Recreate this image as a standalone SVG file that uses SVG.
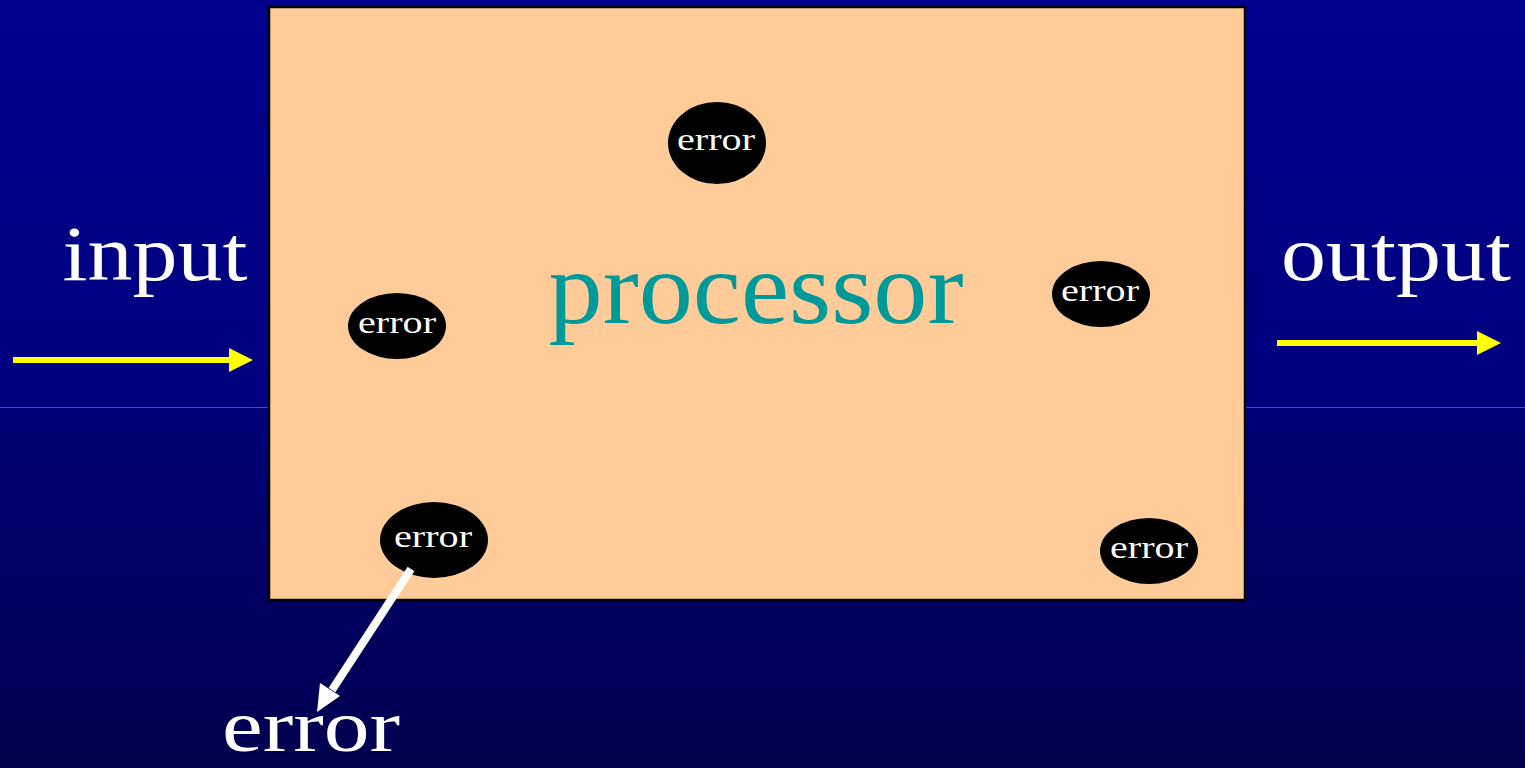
<svg xmlns="http://www.w3.org/2000/svg" width="1525" height="768" viewBox="0 0 1525 768">
<defs>
<linearGradient id="bgTop" x1="0" y1="0" x2="0" y2="1">
<stop offset="0" stop-color="#00008F"/>
<stop offset="1" stop-color="#00007E"/>
</linearGradient>
<linearGradient id="bgBot" x1="0" y1="0" x2="0" y2="1">
<stop offset="0" stop-color="#000078"/>
<stop offset="1" stop-color="#00004E"/>
</linearGradient>
<style>
.lbl{font-family:"Liberation Serif","DejaVu Serif",serif;fill:#fff}
.big{font-size:78px}
.small{font-size:31px}
.blob{fill:#000}
</style>
</defs>
<rect x="0" y="0" width="1525" height="407" fill="url(#bgTop)"/>
<rect x="0" y="407" width="1525" height="361" fill="url(#bgBot)"/>
<line x1="0" y1="407.5" x2="1525" y2="407.5" stroke="#4A4AB0" stroke-width="1"/>
<g id="processor">
<rect x="269" y="7" width="976" height="593" fill="#FFCC99" stroke="#000" stroke-width="2.5"/>
<text x="756" y="323" text-anchor="middle" font-family="Liberation Serif, DejaVu Serif, serif" font-size="104" fill="#009999" textLength="415" lengthAdjust="spacingAndGlyphs">processor</text>
</g>
<g id="error1"><ellipse class="blob" cx="717" cy="143" rx="49" ry="41"/><text class="lbl small" x="716" y="150" text-anchor="middle" textLength="78" lengthAdjust="spacingAndGlyphs">error</text></g>
<g id="error2"><ellipse class="blob" cx="397" cy="326" rx="49" ry="33"/><text class="lbl small" x="397" y="333" text-anchor="middle" textLength="78" lengthAdjust="spacingAndGlyphs">error</text></g>
<g id="error3"><ellipse class="blob" cx="1101" cy="294" rx="49" ry="33"/><text class="lbl small" x="1100" y="301" text-anchor="middle" textLength="78" lengthAdjust="spacingAndGlyphs">error</text></g>
<g id="error4"><ellipse class="blob" cx="434" cy="540" rx="54" ry="38"/><text class="lbl small" x="433" y="547" text-anchor="middle" textLength="78" lengthAdjust="spacingAndGlyphs">error</text></g>
<g id="error5"><ellipse class="blob" cx="1149" cy="551" rx="49" ry="33"/><text class="lbl small" x="1149" y="558" text-anchor="middle" textLength="78" lengthAdjust="spacingAndGlyphs">error</text></g>
<g id="input"><text class="lbl big" x="155" y="280" text-anchor="middle" textLength="185" lengthAdjust="spacingAndGlyphs">input</text></g>
<g id="output"><text class="lbl big" x="1396" y="280" text-anchor="middle" textLength="230" lengthAdjust="spacingAndGlyphs">output</text></g>
<g id="errorOut"><text class="lbl" font-size="74" x="311" y="751" text-anchor="middle" textLength="178" lengthAdjust="spacingAndGlyphs">error</text></g>
<g id="connectors">
<line x1="13" y1="360" x2="232" y2="360" stroke="#FFFF00" stroke-width="6"/>
<polygon points="229,348 253,360 229,372" fill="#FFFF00"/>
<line x1="1277" y1="343" x2="1480" y2="343" stroke="#FFFF00" stroke-width="6"/>
<polygon points="1477,331 1501,343 1477,355" fill="#FFFF00"/>
<line x1="411" y1="569" x2="332" y2="690" stroke="#FFFFFF" stroke-width="8"/>
<polygon points="317,712 320,683 340,696" fill="#FFFFFF"/>
</g>
</svg>
